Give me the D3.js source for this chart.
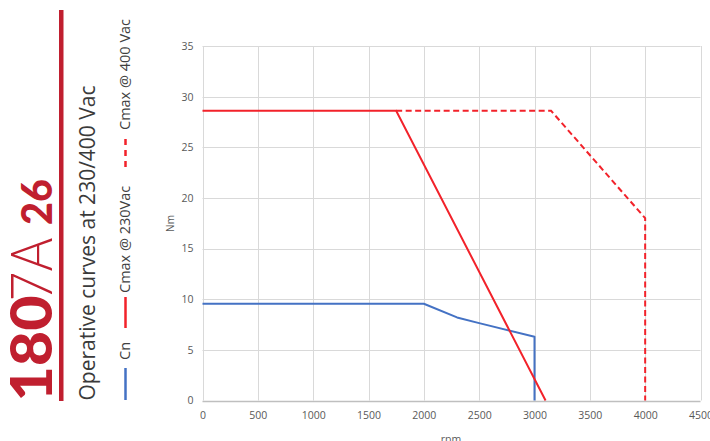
<!DOCTYPE html>
<html><head><meta charset="utf-8">
<script src="https://cdn.jsdelivr.net/npm/d3@7"></script>
<style>body{margin:0;background:#fff}svg{display:block}</style>
</head><body>
<svg id="c" width="710" height="441"></svg>
<script>
// ---- data ----
const rpmTicks = [0,500,1000,1500,2000,2500,3000,3500,4000,4500];
const nmTicks = [0,5,10,15,20,25,30,35];
const cnRpm = [0,2000,2300,2500,3000,3000];
const cnNm = [9.55,9.55,8.2,7.64,6.3,0];
const cmax230Rpm = [0,1750,3100];
const cmax230Nm = [28.6,28.6,0];
const cmax400Rpm = [1750,3150,4000,4000];
const cmax400Nm = [28.6,28.6,18,0];
const legendLabels = ["Cn","Cmax @ 230Vac","Cmax @ 400 Vac"];
const titleText = "Operative curves at 230/400 Vac";

const svg = d3.select("#c");
const x = d3.scaleLinear().domain([0,4500]).range([202.5,700.5]);
const y = d3.scaleLinear().domain([0,35]).range([400.5,46]);

// grid
const g = svg.append("g");
g.selectAll(".vg").data(rpmTicks).enter().append("line")
  .attr("x1",d=>Math.round(x(d))+0.5).attr("x2",d=>Math.round(x(d))+0.5)
  .attr("y1",y(35)).attr("y2",y(0)).attr("stroke","#d9d9d9").attr("stroke-width",1);
g.selectAll(".hg").data(nmTicks).enter().append("line")
  .attr("y1",d=>Math.round(y(d))+0.5).attr("y2",d=>Math.round(y(d))+0.5)
  .attr("x1",x(0)).attr("x2",x(4500)).attr("stroke",d=>d===0?"#bfbfbf":"#d9d9d9").attr("stroke-width",d=>d===0?1.5:1);

// axes labels via d3 axis
const fontTicks = "'Open Sans', sans-serif";
const xa = svg.append("g").attr("transform",`translate(0,${y(0)})`)
  .call(d3.axisBottom(x).tickValues(rpmTicks).tickSize(0).tickPadding(11).tickFormat(d3.format("d")));
xa.select(".domain").remove();
xa.selectAll("text").attr("fill","#595959").style("font-family",fontTicks).style("font-size","10.5px");
const ya = svg.append("g").attr("transform",`translate(${x(0)},0)`)
  .call(d3.axisLeft(y).tickValues(nmTicks).tickSize(0).tickPadding(9).tickFormat(d3.format("d")));
ya.select(".domain").remove();
ya.selectAll("text").attr("fill","#595959").style("font-family",fontTicks).style("font-size","10.5px");

svg.append("text").attr("x",451).attr("y",443).attr("text-anchor","middle")
  .attr("fill","#595959").style("font-family",fontTicks).style("font-size","10.5px").text("rpm");
svg.append("text").attr("transform","translate(174,223.5) rotate(-90)").attr("text-anchor","middle")
  .attr("fill","#595959").style("font-family",fontTicks).style("font-size","10px").text("Nm");

// series
const line = d3.line().x(d=>x(d[0])).y(d=>y(d[1]));
const zip = (a,b)=>a.map((v,i)=>[v,b[i]]);
svg.append("path").datum(zip(cnRpm,cnNm)).attr("d",line).attr("fill","none")
  .attr("stroke","#4472c4").attr("stroke-width",2).attr("stroke-linejoin","round");
svg.append("path").datum(zip(cmax400Rpm,cmax400Nm)).attr("d",line).attr("fill","none")
  .attr("stroke","#f2222a").attr("stroke-width",2).attr("stroke-dasharray","6,3.5");
svg.append("path").datum(zip(cmax230Rpm,cmax230Nm)).attr("d",line).attr("fill","none")
  .attr("stroke","#f2222a").attr("stroke-width",2);

// left title block
const red = "#c01f2f";
svg.append("rect").attr("x",59).attr("y",10).attr("width",4.5).attr("height",391).attr("fill",red);
const t = svg.append("text").attr("transform","translate(52,401.5) rotate(-90)")
  .attr("fill",red).style("font-family","Lato, 'Open Sans', sans-serif");
t.append("tspan").attr("x",0).style("font-weight",900).style("font-size","58px")
  .attr("textLength",106).attr("lengthAdjust","spacingAndGlyphs").text("180");
t.append("tspan").attr("x",100).style("font-weight",300).style("font-size","58px")
  .attr("textLength",64).attr("lengthAdjust","spacingAndGlyphs").text("7A");
t.append("tspan").attr("x",176.5).style("font-weight",900).style("font-size","42px")
  .attr("textLength",46).attr("lengthAdjust","spacingAndGlyphs").text("26");

svg.append("text").attr("transform","translate(95,400.5) rotate(-90)")
  .attr("fill","#3a3a3a").style("font-family","'Open Sans', sans-serif").style("font-size","21px").text(titleText);

// legend
const lf = "'Open Sans', sans-serif";
const legend = [
  {c:"#4472c4",dash:null,y1:400,y2:368,ty:360,label:legendLabels[0]},
  {c:"#f2222a",dash:null,y1:328,y2:297,ty:293,label:legendLabels[1]},
  {c:"#f2222a",dash:"6,5",y1:167,y2:134,ty:130,label:legendLabels[2]}
];
legend.forEach(l=>{
  svg.append("line").attr("x1",125.5).attr("x2",125.5).attr("y1",l.y1).attr("y2",l.y2)
    .attr("stroke",l.c).attr("stroke-width",2.5).attr("stroke-dasharray",l.dash);
  svg.append("text").attr("transform",`translate(130,${l.ty}) rotate(-90)`)
    .attr("fill","#404040").style("font-family",lf).style("font-size","14.5px").text(l.label);
});
</script>
</body></html>
